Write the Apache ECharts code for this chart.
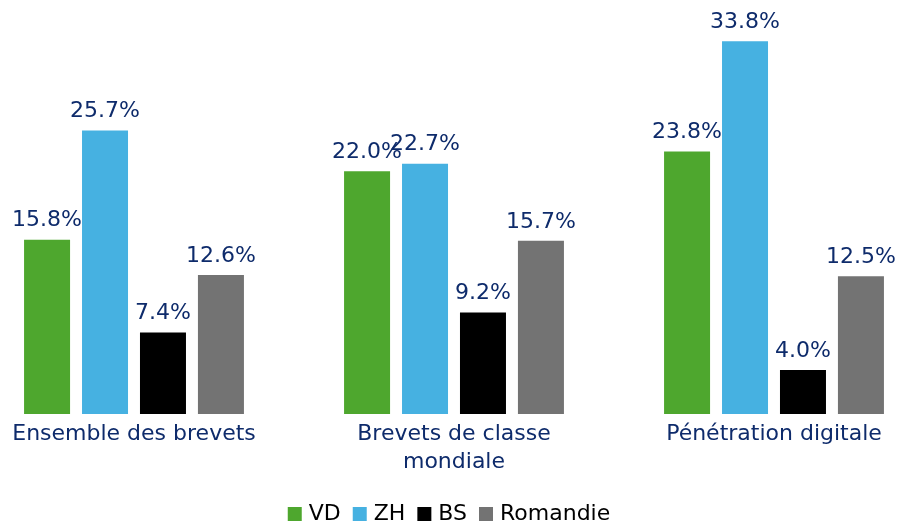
<!DOCTYPE html>
<html>
<head>
<meta charset="utf-8">
<script src="https://cdn.jsdelivr.net/npm/echarts@6/dist/echarts.min.js"></script>
<style>
  html, body { margin: 0; padding: 0; background: #fff; }
  #main { width: 898px; height: 524px; }
</style>
</head>
<body>
<div id="main"></div>
<script>
// données
var categories = ['Ensemble des brevets', 'Brevets de classe\nmondiale', 'Pénétration digitale'];
var seriesNames = ['VD', 'ZH', 'BS', 'Romandie'];
var vd = [15.8, 22.0, 23.8];
var zh = [25.7, 22.7, 33.8];
var bs = [7.4, 9.2, 4.0];
var romandie = [12.6, 15.7, 12.5];
var colors = ['#4EA72E', '#46B1E1', '#000000', '#737373'];

var myChart = echarts.init(document.getElementById('main'));

var labelColor = '#0E2B6B';
var font = '"DejaVu Sans", sans-serif';

function makeSeries(name, data, color) {
    return {
        name: name,
        type: 'bar',
        data: data,
        barWidth: 46,
        barGap: '26%',
        itemStyle: { color: color },
        label: {
            show: true,
            position: 'top',
            distance: 8,
            color: labelColor,
            fontFamily: font,
            fontSize: 22,
            formatter: function (p) { return p.value.toFixed(1) + '%'; }
        }
    };
}

var allData = [vd, zh, bs, romandie];

var option = {
    animation: false,
    textStyle: { fontFamily: font },
    grid: { left: -26, right: -36, top: 28, bottom: 110, containLabel: false, outerBoundsMode: 'none' },
    legend: {
        data: seriesNames,
        bottom: -6,
        left: 'center',
        itemWidth: 14,
        itemHeight: 14,
        itemGap: 12,
        icon: 'rect',
        textStyle: { color: '#000', fontSize: 22, fontFamily: font, padding: [0, 0, 0, 2] }
    },
    xAxis: {
        type: 'category',
        data: categories,
        axisLine: { show: false },
        axisTick: { show: false },
        axisLabel: {
            color: labelColor,
            fontSize: 22,
            fontFamily: font,
            lineHeight: 28,
            margin: 6,
            interval: 0
        }
    },
    yAxis: {
        type: 'value',
        min: 0,
        max: 35,
        show: false
    },
    series: seriesNames.map(function (n, i) { return makeSeries(n, allData[i], colors[i]); })
};

myChart.setOption(option);
</script>
</body>
</html>
